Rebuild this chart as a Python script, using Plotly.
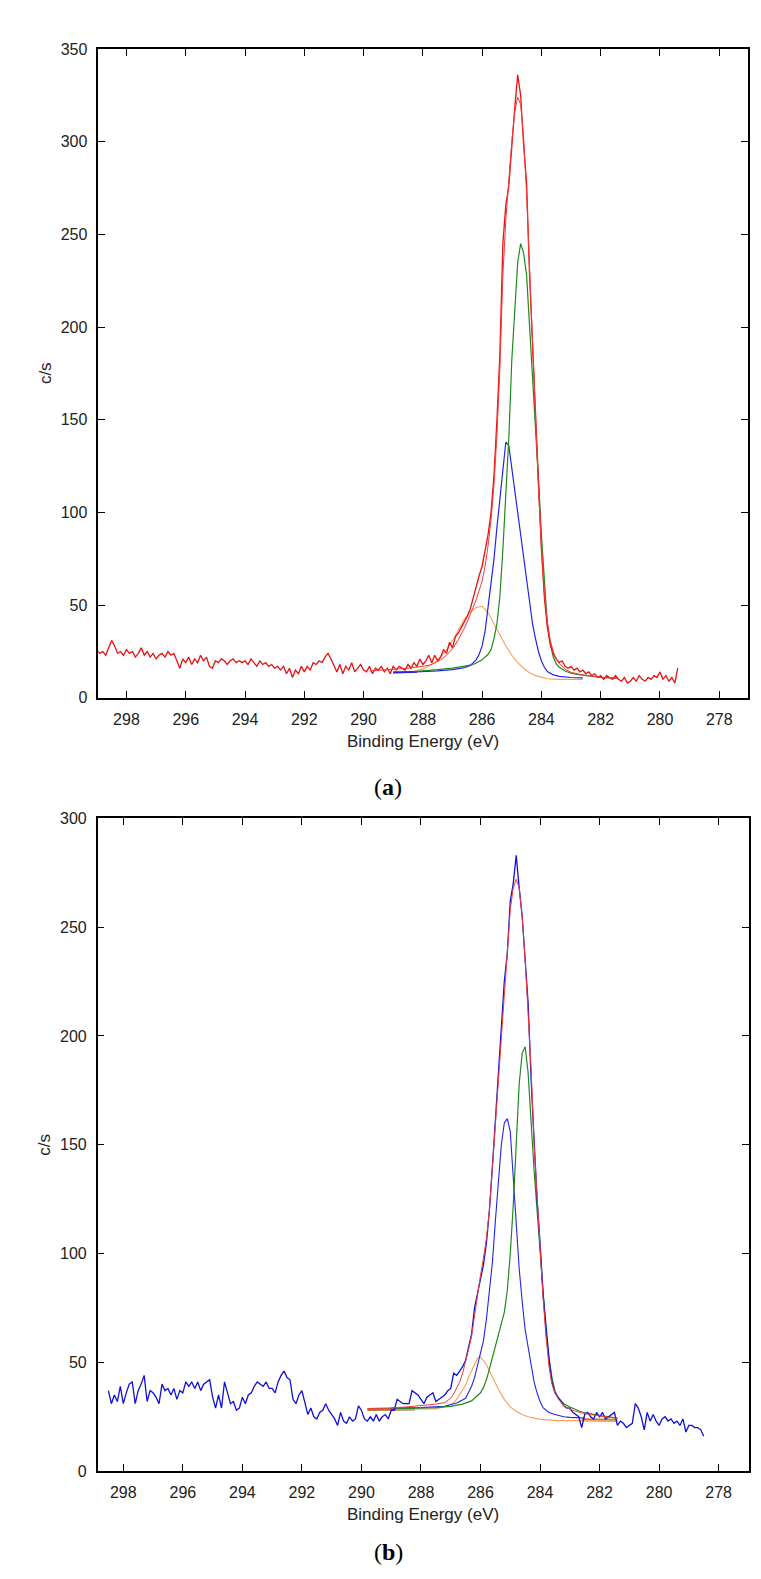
import plotly.graph_objects as go

# ---------------- Panel (a) data ----------------
raw_a_start = 299.0          # first binding energy of the measured trace (eV), 0.1 eV steps
raw_a_counts = [
    26, 24, 25, 23, 27, 31, 28, 24, 25, 23,
    26, 24, 25, 22, 24, 27, 23, 25, 22, 24,
    21, 23, 24, 22, 25, 23, 24, 20, 16, 21,
    19, 22, 18, 21, 19, 23, 20, 22, 17, 16,
    20, 19, 21, 20, 18, 20, 21, 19, 20, 19,
    20, 18, 21, 19, 17, 20, 18, 19, 17, 18,
    16, 17, 15, 17, 13, 16, 11, 15, 13, 17,
    14, 17, 15, 19, 18, 20, 19, 22, 24, 21,
    17, 14, 18, 13, 17, 15, 19, 14, 16, 18,
    15,
    14, 17, 13, 16, 15, 17, 14, 16, 13, 17,
    15, 17, 16, 15, 18, 16, 19, 17, 21, 18,
    20, 23, 19, 23, 20, 22, 26, 24, 30, 27,
    33, 35, 38, 41, 44, 48, 54, 61, 66, 71,
    80, 88, 100, 120, 150, 186, 245, 266, 276, 298,
    318, 336, 325, 298, 278, 228, 192, 151, 114, 80,
    54, 38, 29, 24, 21, 19, 20, 17, 16, 17,
    15, 16, 14, 15, 13, 14, 12, 13, 11, 12,
    10, 12, 11, 10, 12, 10, 9, 11, 8, 9,
    11, 9, 12, 10, 9, 11, 10, 12, 11, 14,
    10, 12, 9, 11, 8, 16,
]

env_a_E = [289.8, 289.5, 289.0, 288.5, 288.0, 287.8, 287.6, 287.4, 287.2, 287.0,
           286.8, 286.6, 286.4, 286.2, 286.0, 285.9, 285.8, 285.7, 285.6, 285.5,
           285.4, 285.3, 285.2, 285.1, 285.0, 284.9, 284.8, 284.7, 284.6, 284.5,
           284.4, 284.3, 284.2, 284.1, 284.0, 283.9, 283.8, 283.7, 283.6, 283.5,
           283.4, 283.2, 283.0, 282.8, 282.6, 282.4, 282.2, 282.0, 281.8, 281.6, 281.4]
env_a_V = [14.5, 14.8, 15.2, 16, 17, 17.6, 18.8, 20.5, 23, 26.5,
           31.5, 37.5, 45, 53, 63, 71, 82, 96, 115, 142,
           178, 228, 258, 280, 300, 316, 324, 320, 302, 272,
           230, 190, 150, 113, 82, 57, 41, 31, 25, 21,
           18.5, 15.5, 13.8, 12.9, 12.3, 11.9, 11.5, 11.2, 10.9, 10.7, 10.5]

green_a_E = [288.3, 288.0, 287.5, 287.0, 286.6, 286.3, 286.0, 285.8, 285.7, 285.6,
             285.5, 285.4, 285.3, 285.2, 285.1, 285.0, 284.9, 284.8, 284.7, 284.6,
             284.5, 284.4, 284.3, 284.2, 284.1, 284.0, 283.9, 283.8, 283.7, 283.6,
             283.5, 283.4, 283.2, 283.0, 282.8, 282.4, 282.0, 281.4]
green_a_V = [14.2, 14.5, 15.2, 16, 17, 18, 20.5, 23.5, 26, 32,
             40, 55, 80, 110, 140, 182, 212, 235, 245, 240,
             228, 202, 176, 150, 118, 88, 62, 40, 29, 22,
             18.5, 16.5, 14.5, 13.3, 12.7, 11.8, 11.1, 10.5]

blue_a_E = [289.0, 288.5, 288.0, 287.5, 287.0, 286.6, 286.4, 286.2, 286.1, 286.0,
            285.9, 285.8, 285.7, 285.6, 285.5, 285.4, 285.3, 285.2, 285.1, 285.0,
            284.9, 284.8, 284.7, 284.6, 284.5, 284.4, 284.3, 284.2, 284.1, 284.0,
            283.9, 283.8, 283.6, 283.4, 283.2, 283.0, 282.6]
blue_a_V = [13.5, 13.8, 14.2, 14.6, 15.2, 16.3, 17.5, 20.5, 23.5, 28,
            36, 48, 62, 75, 92, 108, 126, 138, 136, 124,
            112, 100, 88, 76, 63, 51, 40, 32, 25, 20,
            16.5, 14.2, 12.4, 11.6, 11.2, 11.0, 10.8]

orange_a_E = [288.3, 288.0, 287.8, 287.6, 287.4, 287.2, 287.0, 286.8, 286.6, 286.4,
              286.2, 286.0, 285.8, 285.6, 285.4, 285.2, 285.0, 284.8, 284.6, 284.4,
              284.2, 284.0, 283.8, 283.4, 283.0, 282.6]
orange_a_V = [14.5, 15.5, 17, 19, 22, 26, 31, 37, 42.5, 46.5,
              48.8, 49.4, 46, 40, 34, 28, 23, 19, 16, 13.5,
              12, 11, 10.3, 10, 10, 10]

bg_a_E = [289.0, 288.2]
bg_a_V = [13.8, 14.0]

# ---------------- Panel (b) data ----------------
raw_b_start = 298.5
raw_b_counts = [
    37, 31, 35, 32, 39, 31, 36, 40, 41, 31,
    37, 40, 44, 32, 37, 36, 34, 31, 40, 37,
    38, 35, 38, 33, 37, 36, 41, 39, 41, 38,
    41, 37, 40, 41, 42, 34, 29, 35, 29, 41,
    36, 31, 32, 28, 29, 34, 31, 35, 36, 39,
    41, 40, 39, 41, 38, 38, 36, 41, 44, 46,
    43, 42, 33, 31, 35, 37, 32, 26, 29, 25,
    24, 27, 28, 31, 28, 26, 24, 21, 27, 23,
    22, 25, 23, 24, 30, 28, 24, 23, 25, 23,
    26, 23, 25, 26, 24, 28, 28, 33, 32, 31,
    31, 31, 37, 36, 35, 33, 31, 34, 35, 36,
    32, 33, 34, 35, 37, 38, 45, 44, 46, 48,
    51, 57, 63, 75, 82, 88, 95, 105, 120, 140,
    160, 180, 200, 225, 238, 262, 270, 283, 268, 255,
    235, 215, 180, 150, 125, 105, 82, 67, 52, 41,
    36, 34, 32, 30, 29, 29, 27, 26, 25, 20,
    26, 27, 25, 24, 27, 25, 27, 24, 25, 26,
    27, 21, 23, 22, 20, 21, 22, 31, 29, 25,
    19, 27, 23, 26, 23, 21, 24, 25, 23, 24,
    22, 23, 21, 24, 18, 21, 21, 20, 20, 19,
    16,
]

env_b_E = [289.8, 289.0, 288.5, 288.0, 287.5, 287.2, 287.0, 286.9, 286.8, 286.7,
           286.6, 286.5, 286.4, 286.3, 286.2, 286.1, 286.0, 285.9, 285.8, 285.7,
           285.6, 285.5, 285.4, 285.3, 285.2, 285.1, 285.0, 284.9, 284.8, 284.7,
           284.6, 284.5, 284.4, 284.3, 284.2, 284.1, 284.0, 283.9, 283.8, 283.7,
           283.6, 283.5, 283.4, 283.2, 283.0, 282.8, 282.4, 282.0, 281.7, 281.4]
env_b_V = [28.8, 29, 29.5, 30, 30.8, 31.5, 33.5, 35.5, 38, 41,
           45, 50, 56, 62, 72, 82, 90, 98, 107, 120,
           140, 160, 180, 200, 222, 240, 258, 268, 272, 268,
           255, 235, 212, 185, 150, 125, 102, 80, 62, 48,
           40, 36, 33.5, 30, 28.5, 27.5, 26.2, 25.3, 24.8, 24.4]

green_b_E = [288.8, 288.0, 287.5, 287.0, 286.6, 286.3, 286.1, 286.0, 285.9, 285.8,
             285.7, 285.6, 285.5, 285.4, 285.3, 285.2, 285.1, 285.0, 284.9, 284.8,
             284.7, 284.6, 284.5, 284.4, 284.3, 284.2, 284.1, 284.0, 283.9, 283.8,
             283.7, 283.6, 283.5, 283.4, 283.2, 283.0, 282.6, 282.0, 281.4]
green_b_V = [28.8, 29, 29.2, 29.8, 30.8, 32.3, 34.5, 36, 38.5, 42,
             47, 52, 57, 62, 67, 73, 83, 100, 122, 150,
             178, 192, 195, 183, 160, 138, 120, 100, 80, 64,
             52, 43, 37, 34, 31, 29.5, 27.2, 25.5, 24.4]

blue_b_E = [289.0, 288.0, 287.2, 286.8, 286.5, 286.4, 286.3, 286.2, 286.1, 286.0,
            285.9, 285.8, 285.7, 285.6, 285.5, 285.4, 285.3, 285.2, 285.1, 285.0,
            284.9, 284.8, 284.7, 284.6, 284.5, 284.4, 284.3, 284.2, 284.1, 284.0,
            283.9, 283.7, 283.5, 283.2, 283.0, 282.5]
blue_b_V = [29, 29.2, 29.8, 31.3, 33.5, 36, 39, 43, 49, 55,
            60, 70, 82, 96, 115, 135, 150, 160, 162, 156,
            135, 114, 93, 78, 65, 57, 48, 41, 36, 32,
            29.2, 27, 26, 25, 24.7, 24.4]

orange_b_E = [288.8, 288.0, 287.5, 287.1, 286.9, 286.8, 286.6, 286.5, 286.4, 286.3,
              286.2, 286.1, 286.0, 285.9, 285.8, 285.7, 285.6, 285.5, 285.4, 285.2,
              285.0, 284.8, 284.6, 284.4, 284.2, 284.0, 283.4, 282.0, 281.4]
orange_b_V = [28.5, 28.5, 28.6, 30, 31.5, 33, 37, 39.5, 43, 46,
              49.5, 52, 52.5, 51, 49, 46, 43, 40, 37.6, 33,
              29.5, 27.5, 26, 25, 24.4, 23.8, 23.2, 23.2, 23.2]

bg_b_left_E = [289.8, 288.2]
bg_b_left_V = [28.3, 28.6]
bg_b_right_E = [282.6, 281.4]
bg_b_right_V = [23.6, 23.4]

x_ticks = [298, 296, 294, 292, 290, 288, 286, 284, 282, 280, 278]
y_ticks_a = [0, 50, 100, 150, 200, 250, 300, 350]
y_ticks_b = [0, 50, 100, 150, 200, 250, 300]


def energies(start, n):
    return [round(start - 0.1 * i, 1) for i in range(n)]


W, H = 761, 1579
RED = "#e81010"
RED_FIT = "#f23a3a"
BLUE_RAW = "#1010d8"
BLUE = "#2323ee"
GREEN = "#1f8a1f"
ORANGE = "#f6a05a"

fig = go.Figure()


def line(x, y, color, width, xa, ya):
    fig.add_trace(go.Scatter(x=x, y=y, mode="lines", xaxis=xa, yaxis=ya,
                             line=dict(color=color, width=width),
                             showlegend=False, hoverinfo="skip"))


# panel (a)
line(bg_a_E, bg_a_V, "#5a2d9a", 2, "x", "y")
line(orange_a_E, orange_a_V, ORANGE, 1.1, "x", "y")
line(blue_a_E, blue_a_V, BLUE, 1.2, "x", "y")
line(green_a_E, green_a_V, GREEN, 1.2, "x", "y")
line(energies(raw_a_start, len(raw_a_counts)), raw_a_counts, RED, 1.3, "x", "y")
line(env_a_E, env_a_V, RED_FIT, 1.0, "x", "y")

# panel (b)
line(bg_b_left_E, bg_b_left_V, "#a67c2e", 3, "x2", "y2")
line(bg_b_right_E, bg_b_right_V, "#c0803a", 3, "x2", "y2")
line(orange_b_E, orange_b_V, ORANGE, 1.1, "x2", "y2")
line(blue_b_E, blue_b_V, BLUE, 1.1, "x2", "y2")
line(green_b_E, green_b_V, GREEN, 1.2, "x2", "y2")
line(energies(raw_b_start, len(raw_b_counts)), raw_b_counts, BLUE_RAW, 1.3, "x2", "y2")
line(env_b_E, env_b_V, RED_FIT, 1.0, "x2", "y2")

TICKFONT = dict(family="Liberation Sans, Arial, sans-serif", size=16, color="#222")
axis_common = dict(showline=True, linecolor="black", linewidth=1.5, mirror="ticks",
                   ticks="inside", ticklen=7, tickwidth=1.2, tickcolor="black",
                   showgrid=False, zeroline=False, tickfont=TICKFONT,
                   ticklabelstandoff=6)


def px_x(p):
    return p / W


def px_y(p):
    return 1 - p / H


fig.update_layout(
    width=W, height=H, autosize=False,
    margin=dict(l=0, r=0, t=0, b=0),
    paper_bgcolor="white", plot_bgcolor="white",
    xaxis=dict(domain=[px_x(90.3), px_x(740)], range=[298.95, 277.03],
               tickvals=x_ticks, anchor="y", **axis_common),
    yaxis=dict(domain=[px_y(689.3), px_y(33.3)], range=[0, 350],
               tickvals=y_ticks_a, anchor="x", **axis_common),
    xaxis2=dict(domain=[px_x(89.7), px_x(740.7)], range=[298.86, 276.99],
                tickvals=x_ticks, anchor="y2", **axis_common),
    yaxis2=dict(domain=[px_y(1471), px_y(811)], range=[0, 300],
                tickvals=y_ticks_b, anchor="x2", **axis_common),
)

TITLEFONT = dict(family="Liberation Sans, Arial, sans-serif", size=17, color="#222")
CAPFONT = dict(family="Liberation Serif, DejaVu Serif, serif", size=24, color="black")

annotations = [
    dict(text="Binding Energy (eV)", x=px_x(415), y=px_y(733), font=TITLEFONT),
    dict(text="Binding Energy (eV)", x=px_x(415), y=px_y(1515), font=TITLEFONT),
    dict(text="c/s", x=px_x(37), y=px_y(361), font=TITLEFONT, textangle=-90),
    dict(text="c/s", x=px_x(37), y=px_y(1141), font=TITLEFONT, textangle=-90),
    dict(text="(<b>a</b>)", x=px_x(380), y=px_y(779), font=CAPFONT),
    dict(text="(<b>b</b>)", x=px_x(380), y=px_y(1553), font=CAPFONT),
]
for a in annotations:
    fig.add_annotation(xref="paper", yref="paper", showarrow=False,
                       xanchor="center", yanchor="middle", **a)

fig.write_html("out.html")
